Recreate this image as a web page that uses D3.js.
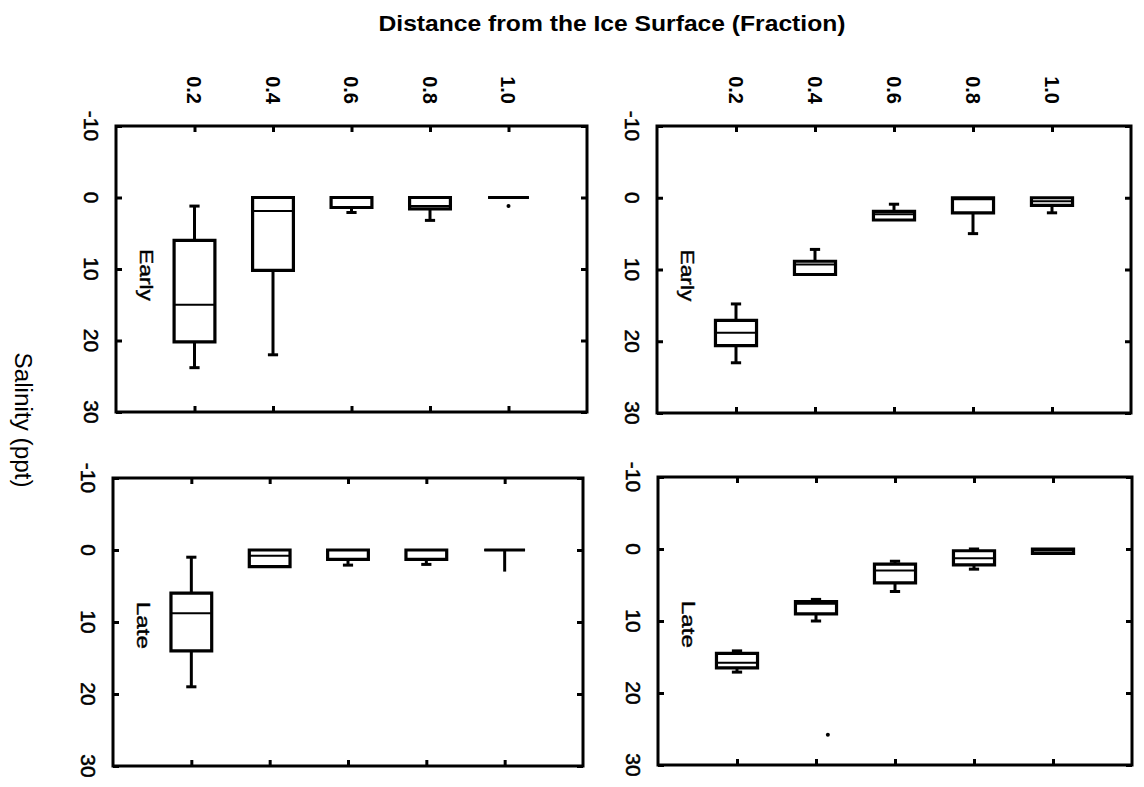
<!DOCTYPE html>
<html><head><meta charset="utf-8">
<script src="https://cdn.jsdelivr.net/npm/d3@7"></script>
<style>body{margin:0;background:#fff} svg{display:block;font-family:"Liberation Sans",Arial,sans-serif}</style>
</head><body><svg id="c" width="1144" height="787"></svg>
<script>
// ---- data ----
const fractions = [0.2, 0.4, 0.6, 0.8, 1.0];
const fractionLabels = ["0.2", "0.4", "0.6", "0.8", "1.0"];
const salinityTicks = [-10, 0, 10, 20, 30];
const salinityLabels = ["-10", "0", "10", "20", "30"];
// each row: [lower whisker, q1, median, q3, upper whisker] (salinity, ppt)
const earlyLeft  = [[1.2, 6.0, 15.0, 20.2, 23.8], [0, 0, 1.9, 10.2, 22.0], [0, 0, 0, 1.4, 2.1], [0, 0, 1.2, 1.6, 3.2], [0, 0, 0, 0, 0]];
const earlyRight = [[14.8, 17.1, 18.8, 20.6, 23.0], [7.2, 8.85, 9.3, 10.7, 10.7], [0.9, 1.9, 2.3, 3.1, 3.1], [0, 0, 0.2, 2.1, 5.0], [0, 0, 0.5, 1.05, 2.1]];
const lateLeft   = [[1.0, 6.0, 8.8, 14.0, 19.0], [0, 0, 0.8, 2.3, 2.3], [0, 0, 0, 1.3, 2.1], [0, 0, 0, 1.3, 2.0], [0, 0, 0, 0, 3.0]];
const lateRight  = [[14.15, 14.5, 15.8, 16.5, 17.1], [7.0, 7.3, 7.6, 9.0, 10.0], [1.7, 2.1, 3.0, 4.7, 5.9], [0, 0.24, 1.3, 2.2, 2.8], [0, 0, 0.2, 0.6, 0.6]];
// outliers: [fraction, salinity]
const earlyLeftOutliers = [[1.0, 1.2]];
const earlyRightOutliers = [];
const lateLeftOutliers = [];
const lateRightOutliers = [[0.43, 25.8]];
const panelNames = ["Early", "Early", "Late", "Late"];

// ---- layout ----
const svg = d3.select("#c");
const panels = [
  {data: earlyLeft,  out: earlyLeftOutliers,  name: panelNames[0], x0: 116, x1: 587,  y0: 126, y1: 412, top: true},
  {data: earlyRight, out: earlyRightOutliers, name: panelNames[1], x0: 657, x1: 1131, y0: 126, y1: 413, top: true},
  {data: lateLeft,   out: lateLeftOutliers,   name: panelNames[2], x0: 113, x1: 583,  y0: 478, y1: 766, top: false},
  {data: lateRight,  out: lateRightOutliers,  name: panelNames[3], x0: 658, x1: 1132, y0: 477, y1: 765, top: false}
];

svg.append("text").attr("x", 612).attr("y", 31).attr("text-anchor", "middle")
  .attr("font-size", 22).attr("font-weight", "bold")
  .attr("textLength", 467).attr("lengthAdjust", "spacingAndGlyphs")
  .text("Distance from the Ice Surface (Fraction)");

svg.append("text").attr("transform", "translate(15,420) rotate(90)")
  .attr("text-anchor", "middle").attr("font-size", 23)
  .attr("textLength", 135).attr("lengthAdjust", "spacingAndGlyphs")
  .text("Salinity (ppt)");

panels.forEach(p => {
  const w = p.x1 - p.x0, h = p.y1 - p.y0;
  const g = svg.append("g").attr("transform", `translate(${p.x0},${p.y0})`);
  const xs = d3.scaleLinear().domain([0, 1.2]).range([0, w]);
  const ys = d3.scaleLinear().domain([-10, 30]).range([0, h]);

  const tickStyle = sel => {
    sel.select(".domain").remove();
    sel.selectAll(".tick line").attr("stroke", "#000").attr("stroke-width", 3);
  };
  g.append("g").call(d3.axisLeft(ys).tickValues(salinityTicks).tickSize(-6).tickFormat("")).call(tickStyle);
  g.append("g").attr("transform", `translate(${w},0)`).call(d3.axisRight(ys).tickValues(salinityTicks).tickSize(-6).tickFormat("")).call(tickStyle);
  g.append("g").call(d3.axisTop(xs).tickValues(fractions).tickSize(-6).tickFormat("")).call(tickStyle);
  g.append("g").attr("transform", `translate(0,${h})`).call(d3.axisBottom(xs).tickValues(fractions).tickSize(-6).tickFormat("")).call(tickStyle);

  g.append("rect").attr("x", 0).attr("y", 0).attr("width", w).attr("height", h)
    .attr("fill", "none").attr("stroke", "#000").attr("stroke-width", 3);

  // salinity labels (rotated)
  g.selectAll("text.sal").data(salinityTicks).join("text").attr("class", "sal")
    .attr("transform", d => `translate(-32,${ys(d)}) rotate(90)`)
    .attr("text-anchor", "middle").attr("font-size", 21)
    .attr("stroke", "#000").attr("stroke-width", 0.5)
    .text((d, i) => salinityLabels[i]);

  if (p.top) {
    g.selectAll("text.frac").data(fractions).join("text").attr("class", "frac")
      .attr("transform", d => `translate(${xs(d) - 7.5},-22) rotate(90)`)
      .attr("text-anchor", "end").attr("font-size", 20).attr("font-weight", "bold")
      .text((d, i) => fractionLabels[i]);
  }

  g.append("text").attr("transform", `translate(${xs(0.06)},${ys(7.2)}) rotate(90)`)
    .attr("font-size", 18).attr("textLength", p.name === "Early" ? 52 : 47)
    .attr("stroke", "#000").attr("stroke-width", 0.4)
    .attr("lengthAdjust", "spacingAndGlyphs").text(p.name);

  const bw = xs(0.104) - xs(0), cw = xs(0.026) - xs(0);
  p.data.forEach((b, i) => {
    const cx = xs(fractions[i]);
    const [lo, q1, med, q3, hi] = b;
    const bg = g.append("g").attr("stroke", "#000").attr("fill", "none");
    if (lo < q1) {
      bg.append("line").attr("x1", cx).attr("x2", cx).attr("y1", ys(lo)).attr("y2", ys(q1)).attr("stroke-width", 3);
      bg.append("line").attr("x1", cx - cw / 2).attr("x2", cx + cw / 2).attr("y1", ys(lo)).attr("y2", ys(lo)).attr("stroke-width", 3);
    }
    if (hi > q3) {
      bg.append("line").attr("x1", cx).attr("x2", cx).attr("y1", ys(q3)).attr("y2", ys(hi)).attr("stroke-width", 3);
      if (q3 > q1) bg.append("line").attr("x1", cx - cw / 2).attr("x2", cx + cw / 2).attr("y1", ys(hi)).attr("y2", ys(hi)).attr("stroke-width", 3);
    }
    bg.append("path")
      .attr("d", `M${cx - bw / 2},${ys(q1)}H${cx + bw / 2}V${ys(q3)}H${cx - bw / 2}Z`)
      .attr("fill", "#fff").attr("stroke-width", 3.2);
    bg.append("line").attr("x1", cx - bw / 2).attr("x2", cx + bw / 2).attr("y1", ys(med)).attr("y2", ys(med)).attr("stroke-width", 2);
  });
  g.selectAll("circle.out").data(p.out).join("circle").attr("class", "out")
    .attr("cx", d => xs(d[0])).attr("cy", d => ys(d[1])).attr("r", 2).attr("fill", "#000");
});
</script></body></html>
